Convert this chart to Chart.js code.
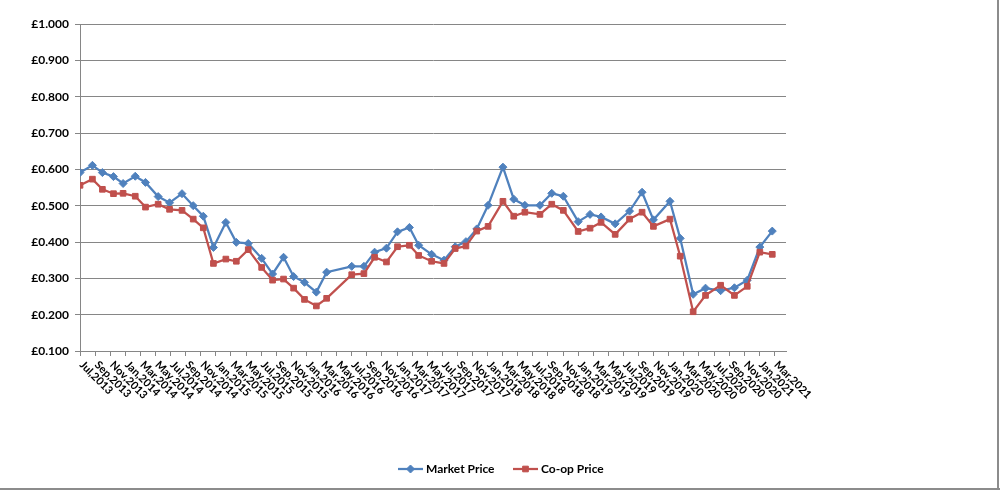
<!DOCTYPE html>
<html><head><meta charset="utf-8">
<script src="https://cdn.jsdelivr.net/npm/chart.js@4"></script>
<style>html,body{margin:0;padding:0;background:#fff}canvas{display:block}</style>
</head><body>
<canvas id="c" width="1000" height="490"></canvas>
<script>
// ---- data ----
const priceDates = [
 '2013-07-01','2013-08-21','2013-09-30','2013-11-14','2013-12-23','2014-02-10','2014-03-22','2014-05-12',
 '2014-06-27','2014-08-17','2014-10-01','2014-11-11','2014-12-22','2015-02-10','2015-03-23','2015-05-10',
 '2015-07-03','2015-08-17','2015-09-30','2015-11-10','2015-12-24','2016-02-10','2016-03-22','2016-07-01',
 '2016-08-20','2016-10-02','2016-11-19','2017-01-03','2017-02-19','2017-03-28','2017-05-19','2017-07-08',
 '2017-08-23','2017-10-05','2017-11-18','2018-01-03','2018-03-02','2018-04-15','2018-05-30','2018-07-30',
 '2018-09-16','2018-11-02','2019-01-01','2019-02-17','2019-04-02','2019-05-29','2019-07-26','2019-09-15',
 '2019-10-31','2020-01-06','2020-02-16','2020-04-08','2020-05-28','2020-07-28','2020-09-22','2020-11-13',
 '2021-01-03','2021-02-21'
];
const marketPrice = [
 0.591,0.611,0.591,0.580,0.561,0.581,0.564,0.525,0.508,0.533,0.500,0.471,0.385,0.454,0.399,0.396,
 0.355,0.312,0.358,0.305,0.289,0.262,0.317,0.333,0.333,0.372,0.383,0.428,0.440,0.391,0.366,0.350,
 0.387,0.401,0.436,0.501,0.606,0.518,0.501,0.501,0.534,0.526,0.456,0.476,0.469,0.450,0.485,0.537,
 0.461,0.512,0.410,0.256,0.273,0.266,0.274,0.295,0.386,0.430
];
const coopPrice = [
 0.556,0.573,0.545,0.533,0.534,0.526,0.496,0.504,0.490,0.487,0.463,0.439,0.341,0.353,0.347,0.379,
 0.330,0.295,0.298,0.273,0.242,0.224,0.245,0.310,0.313,0.358,0.345,0.387,0.391,0.363,0.347,0.341,
 0.382,0.389,0.430,0.443,0.512,0.471,0.482,0.476,0.504,0.487,0.429,0.438,0.454,0.421,0.463,0.482,
 0.443,0.463,0.361,0.208,0.253,0.281,0.253,0.278,0.372,0.366
];
const tickLabels = [
 'Jul,2013','Sep,2013','Nov,2013','Jan,2014','Mar,2014','May,2014','Jul,2014','Sep,2014','Nov,2014',
 'Jan,2015','Mar,2015','May,2015','Jul,2015','Sep,2015','Nov,2015','Jan,2016','Mar,2016','May,2016',
 'Jul,2016','Sep,2016','Nov,2016','Jan,2017','Mar,2017','May,2017','Jul,2017','Sep,2017','Nov,2017',
 'Jan,2018','Mar,2018','May,2018','Jul,2018','Sep,2018','Nov,2018','Jan,2019','Mar,2019','May,2019',
 'Jul,2019','Sep,2019','Nov,2019','Jan,2020','Mar,2020','May,2020','Jul,2020','Sep,2020','Nov,2020',
 'Jan,2021','Mar,2021'
];
const yTickValues = [0.1,0.2,0.3,0.4,0.5,0.6,0.7,0.8,0.9,1.0];
const seriesNames = ['Market Price','Co-op Price'];
const seriesColors = ['#4F81BD','#C0504D'];
const axisStart = '2013-07-01';
const axisEnd = '2021-04-17';

// ---- helpers ----
const MON = {Jan:1,Feb:2,Mar:3,Apr:4,May:5,Jun:6,Jul:7,Aug:8,Sep:9,Oct:10,Nov:11,Dec:12};
function monthsFrom(y, m, d) {
  const [y0, m0] = axisStart.split('-').map(Number);
  const dim = new Date(y, m, 0).getDate();
  return (y - y0) * 12 + (m - m0) + (d - 1) / dim;
}
function dateToX(s) { const [y, m, d] = s.split('-').map(Number); return monthsFrom(y, m, d); }
function labelToX(l) { const [mn, y] = l.split(','); return monthsFrom(Number(y), MON[mn], 1); }

const FONT = 'bold 12px Lato, "Open Sans", sans-serif';
const XFONT = 'bold 11px Lato, "Open Sans", sans-serif';
const GRID = '#868686';

const xLabelPlugin = {
  id: 'xLabels',
  afterDraw(chart) {
    const ctx = chart.ctx, xs = chart.scales.x, yb = chart.chartArea.bottom;
    ctx.save();
    ctx.font = XFONT; ctx.fillStyle = '#000';
    ctx.textAlign = 'left'; ctx.textBaseline = 'middle';
    tickLabels.forEach(l => {
      const px = xs.getPixelForValue(labelToX(l));
      ctx.save();
      ctx.translate(px + 1.5, yb + 12);
      ctx.rotate(Math.PI / 4);
      ctx.fillText(l, 0, 0);
      ctx.restore();
    });
    // legend
    ctx.font = FONT;
    const ly = 469;
    const items = [{x0: 398, name: seriesNames[0], color: seriesColors[0], style: 'rectRot', r: 4},
                   {x0: 513, name: seriesNames[1], color: seriesColors[1], style: 'rect', r: 4}];
    items.forEach(it => {
      ctx.strokeStyle = it.color; ctx.lineWidth = 2.25;
      ctx.beginPath(); ctx.moveTo(it.x0, ly); ctx.lineTo(it.x0 + 25, ly); ctx.stroke();
      ctx.fillStyle = it.color; ctx.lineWidth = 1;
      Chart.helpers.drawPoint(ctx, {pointStyle: it.style, radius: it.r, borderWidth: 1, rotation: 0}, it.x0 + 12.5, ly);
      ctx.fillStyle = '#000';
      ctx.fillText(it.name, it.x0 + 28, ly);
    });
    // outer border
    ctx.fillStyle = '#8c8c8c';
    ctx.fillRect(997, 0, 2, 490);
    ctx.fillRect(0, 488, 1000, 2);
    ctx.restore();
  }
};

const mk = (i, vals) => ({
  label: seriesNames[i],
  data: priceDates.map((d, k) => ({x: dateToX(d), y: vals[k]})),
  borderColor: seriesColors[i],
  backgroundColor: seriesColors[i],
  pointBackgroundColor: seriesColors[i],
  pointBorderColor: seriesColors[i],
  borderWidth: 2.25,
  pointStyle: i === 0 ? 'rectRot' : 'rect',
  pointRadius: 4,
  pointBorderWidth: 1,
  tension: 0,
  order: i === 0 ? 1 : 0
});

new Chart(document.getElementById('c'), {
  type: 'line',
  data: { datasets: [mk(0, marketPrice), mk(1, coopPrice)] },
  plugins: [xLabelPlugin],
  options: {
    responsive: false, animation: false, devicePixelRatio: 1,
    layout: { padding: { left: 0, top: 24, right: 214, bottom: 0 } },
    plugins: { legend: { display: false }, tooltip: { enabled: false } },
    scales: {
      x: {
        type: 'linear', min: 0, max: dateToX(axisEnd),
        afterBuildTicks: s => { s.ticks = tickLabels.map(l => ({value: labelToX(l)})); },
        afterFit: s => { s.height = 139; },
        ticks: { display: false },
        grid: { drawOnChartArea: false, drawTicks: true, tickLength: 5, color: GRID, lineWidth: 1 },
        border: { display: true, color: GRID, width: 1 }
      },
      y: {
        min: 0.1, max: 1.0,
        afterBuildTicks: s => { s.ticks = yTickValues.map(v => ({value: v})); },
        afterFit: s => { s.width = 80; },
        ticks: { color: '#000', font: { family: 'Lato, "Open Sans", sans-serif', size: 12, weight: 'bold' },
                 padding: 6, callback: v => '£' + Number(v).toFixed(3) },
        grid: { color: GRID, lineWidth: 1, tickLength: 5 },
        border: { display: true, color: GRID, width: 1 }
      }
    }
  }
});
</script>
</body></html>
